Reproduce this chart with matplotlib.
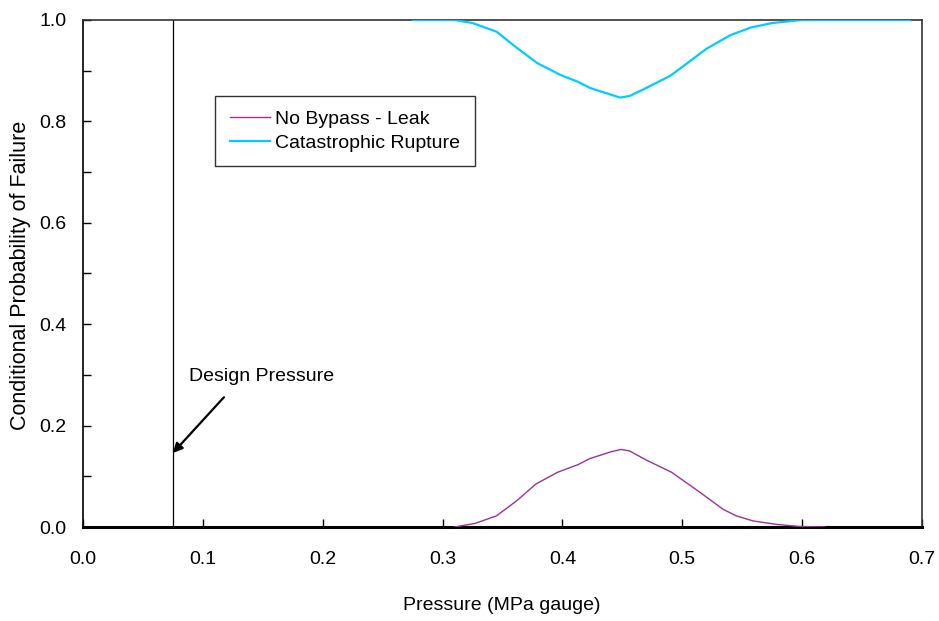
import matplotlib
matplotlib.use("Agg")
import matplotlib.pyplot as plt
from matplotlib.ticker import MultipleLocator

plt.rcParams['font.family'] = ['Liberation Sans', 'DejaVu Sans']

# Conditional failure probability versus pressure
leak_pressure = [0.310, 0.327, 0.345, 0.362, 0.378, 0.396, 0.413, 0.423, 0.440,
                 0.449, 0.456, 0.470, 0.491, 0.515, 0.534, 0.545, 0.559, 0.579,
                 0.598, 0.619]
leak_prob = [0.000, 0.007, 0.022, 0.052, 0.085, 0.108, 0.123, 0.135, 0.148,
             0.153, 0.150, 0.132, 0.108, 0.068, 0.035, 0.022, 0.012, 0.005,
             0.001, 0.000]

rupture_pressure = [0.275, 0.310, 0.325, 0.345, 0.362, 0.379, 0.398, 0.413,
                    0.423, 0.448, 0.456, 0.470, 0.490, 0.506, 0.520, 0.540,
                    0.557, 0.575, 0.600, 0.690]
rupture_prob = [1.000, 1.000, 0.994, 0.977, 0.945, 0.915, 0.892, 0.878,
                0.866, 0.847, 0.850, 0.866, 0.890, 0.918, 0.943, 0.970,
                0.985, 0.994, 1.000, 1.000]

design_pressure = 0.075
x_ticks = [0.0, 0.1, 0.2, 0.3, 0.4, 0.5, 0.6, 0.7]
y_ticks = [0.0, 0.2, 0.4, 0.6, 0.8, 1.0]

fig = plt.figure(figsize=(9.39, 6.21), dpi=100)
ax = fig.add_axes([83 / 939, 1 - 527 / 621, (922 - 83) / 939, (527 - 20) / 621])

ax.plot(leak_pressure, leak_prob, color='#993399', lw=1.0,
        label='No Bypass - Leak', zorder=3)
ax.plot(rupture_pressure, rupture_prob, color='#00CCFF', lw=1.6,
        label='Catastrophic Rupture', zorder=3)

# design pressure marker with callout
ax.axvline(design_pressure, color='black', lw=0.9, zorder=2)
ax.annotate('', xy=(design_pressure, 0.146), xytext=(0.1176, 0.256),
            arrowprops=dict(arrowstyle='-|>', color='black', lw=1.6,
                            mutation_scale=14, shrinkA=0, shrinkB=0))
ax.text(0.0884, 0.296, 'Design Pressure', fontsize=14, va='center', ha='left')

ax.set_xlim(0, 0.7)
ax.set_ylim(0, 1.0)
ax.set_xticks(x_ticks)
ax.set_xticklabels([f'{v:.1f}' for v in x_ticks])
ax.set_yticks(y_ticks)
ax.set_yticklabels([f'{v:.1f}' for v in y_ticks])
ax.yaxis.set_minor_locator(MultipleLocator(0.1))

ax.tick_params(axis='both', which='both', direction='in', labelsize=14,
               color='black')
ax.tick_params(axis='x', which='major', length=6, width=1, pad=17)
ax.tick_params(axis='y', which='major', length=6, width=1, pad=12)
ax.tick_params(axis='y', which='minor', length=6, width=1)

for side in ['top', 'right']:
    ax.spines[side].set_linewidth(1.2)
    ax.spines[side].set_color('#333333')
ax.spines['left'].set_linewidth(1.2)
ax.spines['bottom'].set_linewidth(2.2)

ax.set_xlabel('Pressure (MPa gauge)', fontsize=14)
ax.set_ylabel('Conditional Probability of Failure', fontsize=15.5)
ax.xaxis.set_label_coords(0.4994, -0.154)
ax.yaxis.set_label_coords(-0.075, 0.497)
ax.xaxis.label.set_va('center')
ax.yaxis.label.set_va('center')

leg = ax.legend(loc='upper left', bbox_to_anchor=((215 - 83) / 839, 1 - (96 - 20) / 507),
                fontsize=14, frameon=True, fancybox=False, handlelength=2.1,
                handletextpad=0.25, borderpad=0.75, labelspacing=0.3,
                borderaxespad=0)
leg.get_frame().set_edgecolor('black')
leg.get_frame().set_linewidth(1.0)

fig.savefig('out.png', dpi=100)
